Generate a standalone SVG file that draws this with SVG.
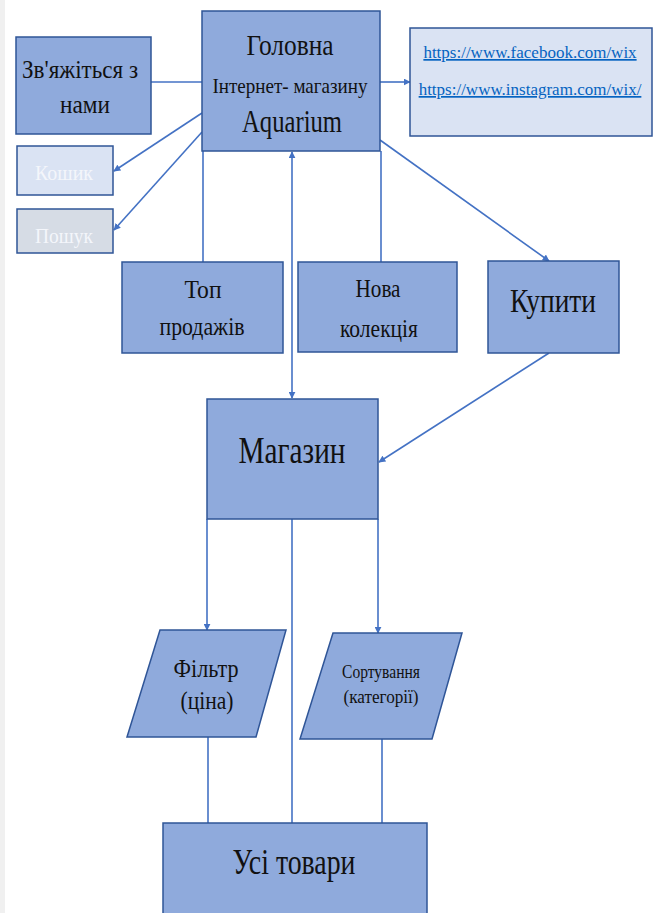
<svg xmlns="http://www.w3.org/2000/svg" width="660" height="913" viewBox="0 0 660 913">
<style>
.box{fill:#8faadc;stroke:#2f5597;stroke-width:1.5}
.lbox{fill:#dae3f3;stroke:#2f5597;stroke-width:1.5}
.gbox{fill:#d6dce5;stroke:#2f5597;stroke-width:1.5}
.t{font-family:"Liberation Serif","DejaVu Serif",serif;fill:#111;text-anchor:middle}
.w{font-family:"Liberation Serif","DejaVu Serif",serif;fill:#f4f6fb;text-anchor:middle}
.link{font-family:"Liberation Serif","DejaVu Serif",serif;fill:#0563c1;text-anchor:middle;text-decoration:underline}
.c{stroke:#4472c4;stroke-width:1.6;fill:none}
</style>
<defs>
<marker id="ah" viewBox="0 0 10 10" refX="9" refY="5" markerWidth="7" markerHeight="7" orient="auto-start-reverse" markerUnits="userSpaceOnUse">
<path d="M0,0 L10,5 L0,10 z" fill="#4472c4"/>
</marker>
</defs>
<rect x="0" y="0" width="660" height="913" fill="#ffffff"/>
<rect x="0" y="0" width="5" height="913" fill="#f0f0f0"/>
<g id="connectors">
<line class="c" x1="151" y1="82" x2="202" y2="82"/>
<line class="c" x1="380" y1="82" x2="410" y2="82" marker-end="url(#ah)"/>
<line class="c" x1="202" y1="113" x2="114" y2="171" marker-end="url(#ah)"/>
<line class="c" x1="202" y1="132" x2="114" y2="230" marker-end="url(#ah)"/>
<line class="c" x1="203" y1="151" x2="203" y2="262"/>
<line class="c" x1="381" y1="151" x2="381" y2="262"/>
<line class="c" x1="380" y1="140" x2="549" y2="261" marker-end="url(#ah)"/>
<line class="c" x1="292" y1="152" x2="292" y2="398" marker-start="url(#ah)" marker-end="url(#ah)"/>
<line class="c" x1="549" y1="353" x2="379" y2="462" marker-end="url(#ah)"/>
<line class="c" x1="207" y1="519" x2="207" y2="630" marker-end="url(#ah)"/>
<line class="c" x1="378" y1="519" x2="378" y2="633" marker-end="url(#ah)"/>
<line class="c" x1="292" y1="519" x2="292" y2="823"/>
<line class="c" x1="208" y1="737" x2="208" y2="823"/>
<line class="c" x1="382" y1="739" x2="382" y2="823"/>
</g>
<g id="main">
<rect class="box" x="202" y="11" width="178" height="140"/>
<text class="t" x="290" y="55" font-size="30" textLength="87" lengthAdjust="spacingAndGlyphs">Головна</text>
<text class="t" x="290" y="93" font-size="21" textLength="155" lengthAdjust="spacingAndGlyphs">Інтернет- магазину</text>
<text class="t" x="292" y="132" font-size="32" textLength="100" lengthAdjust="spacingAndGlyphs">Aquarium</text>
</g>
<g id="contact">
<rect class="box" x="16" y="37" width="135" height="97"/>
<text class="t" x="80" y="78" font-size="26" textLength="116" lengthAdjust="spacingAndGlyphs">Зв'яжіться з</text>
<text class="t" x="85" y="113" font-size="26" textLength="50" lengthAdjust="spacingAndGlyphs">нами</text>
</g>
<g id="links">
<rect class="lbox" x="410" y="28" width="242" height="108"/>
<text class="link" x="530" y="58" font-size="17">https://www.facebook.com/wix</text>
<text class="link" x="530" y="95" font-size="17">https://www.instagram.com/wix/</text>
</g>
<g id="cart">
<rect class="lbox" x="17" y="146" width="96" height="49"/>
<text class="w" x="64" y="180" font-size="22" textLength="58" lengthAdjust="spacingAndGlyphs">Кошик</text>
</g>
<g id="search">
<rect class="gbox" x="17" y="209" width="96" height="44"/>
<text class="w" x="64" y="243" font-size="22" textLength="58" lengthAdjust="spacingAndGlyphs">Пошук</text>
</g>
<g id="top">
<rect class="box" x="122" y="262" width="161" height="91"/>
<text class="t" x="203" y="298" font-size="26" textLength="37" lengthAdjust="spacingAndGlyphs">Топ</text>
<text class="t" x="202" y="335" font-size="26" textLength="85" lengthAdjust="spacingAndGlyphs">продажів</text>
</g>
<g id="new">
<rect class="box" x="298" y="262" width="159" height="90"/>
<text class="t" x="378" y="297" font-size="26" textLength="45" lengthAdjust="spacingAndGlyphs">Нова</text>
<text class="t" x="379" y="337" font-size="26" textLength="78" lengthAdjust="spacingAndGlyphs">колекція</text>
</g>
<g id="buy">
<rect class="box" x="488" y="261" width="131" height="92"/>
<text class="t" x="553" y="312" font-size="34" textLength="86" lengthAdjust="spacingAndGlyphs">Купити</text>
</g>
<g id="shop">
<rect class="box" x="207" y="399" width="171" height="120"/>
<text class="t" x="292" y="463" font-size="38" textLength="107" lengthAdjust="spacingAndGlyphs">Магазин</text>
</g>
<g id="filter">
<polygon class="box" points="160,630 286,630 256,737 127,737"/>
<text class="t" x="206" y="677" font-size="26" textLength="65" lengthAdjust="spacingAndGlyphs">Фільтр</text>
<text class="t" x="207" y="709" font-size="26" textLength="53" lengthAdjust="spacingAndGlyphs">(ціна)</text>
</g>
<g id="sort">
<polygon class="box" points="333,633 462,633 432,739 300,739"/>
<text class="t" x="381" y="678" font-size="19" textLength="78" lengthAdjust="spacingAndGlyphs">Сортування</text>
<text class="t" x="381" y="703" font-size="19" textLength="75" lengthAdjust="spacingAndGlyphs">(категорії)</text>
</g>
<g id="all">
<rect class="box" x="163" y="823" width="264" height="95"/>
<text class="t" x="294" y="874" font-size="36" textLength="123" lengthAdjust="spacingAndGlyphs">Усі товари</text>
</g>
</svg>
